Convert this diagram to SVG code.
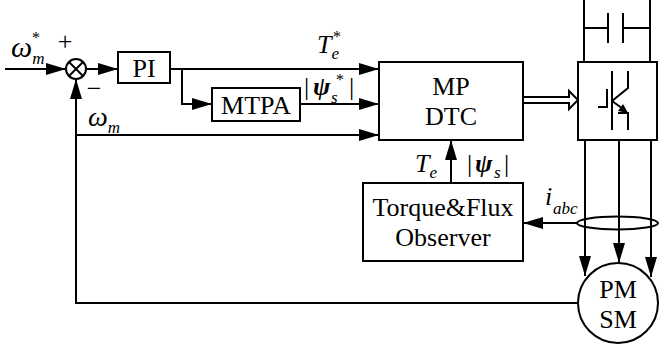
<svg xmlns="http://www.w3.org/2000/svg" width="660" height="350" viewBox="0 0 660 350">
<defs>
<marker id="ah" viewBox="0 0 20 12" refX="20" refY="6" markerWidth="20" markerHeight="12" markerUnits="userSpaceOnUse" orient="auto"><path d="M0,0 L20,6 L0,12 z" fill="#000"/></marker>
</defs>
<style>
.box{fill:#fff;stroke:#000;stroke-width:2}
.ln{fill:none;stroke:#000;stroke-width:2}
.ar{fill:none;stroke:#000;stroke-width:2;marker-end:url(#ah)}
.t{font-family:"Liberation Serif","Times New Roman",serif;font-size:26px;fill:#000}
.i{font-family:"Liberation Serif","Times New Roman",serif;font-style:italic;fill:#000}
.b{font-weight:bold}
.r{font-style:normal}
</style>
<rect width="660" height="350" fill="#fff"/>

<g id="connectors">
<line class="ar" x1="5" y1="69" x2="66" y2="69"/>
<line class="ar" x1="86" y1="69" x2="118" y2="69"/>
<line class="ar" x1="170" y1="69" x2="379" y2="69"/>
<polyline class="ar" points="182,69 182,104 212,104"/>
<line class="ar" x1="300" y1="104" x2="379" y2="104"/>
<polyline class="ar" points="578,303 76,303 76,79"/>
<line class="ar" x1="76" y1="135" x2="379" y2="135"/>
<line class="ar" x1="451" y1="183" x2="451" y2="140"/>
<line class="ar" x1="578" y1="223" x2="523" y2="223"/>
<path d="M523,97 H569 V91 L578,100 L569,109 V103 H523" fill="#fff" stroke="#000" stroke-width="2"/>
<line class="ar" x1="585" y1="140" x2="585" y2="276"/>
<line class="ar" x1="619" y1="140" x2="619" y2="263"/>
<line class="ar" x1="651" y1="140" x2="651" y2="277"/>
<line class="ln" x1="584" y1="0" x2="584" y2="62"/>
<line class="ln" x1="650" y1="0" x2="650" y2="62"/>
</g>

<g id="capacitor">
<line class="ln" x1="584" y1="28" x2="608" y2="28"/>
<line class="ln" x1="608" y1="13" x2="608" y2="43"/>
<line class="ln" x1="623" y1="13" x2="623" y2="43"/>
<line class="ln" x1="623" y1="28" x2="650" y2="28"/>
</g>

<g id="sum">
<circle cx="76" cy="69" r="10" fill="#fff" stroke="#000" stroke-width="2"/>
<line class="ln" x1="69" y1="62" x2="83" y2="76" stroke-width="1.6"/>
<line class="ln" x1="83" y1="62" x2="69" y2="76" stroke-width="1.6"/>
<text class="t" x="65" y="50" text-anchor="middle" font-size="22">+</text>
<text class="t" x="94" y="97" text-anchor="middle" font-size="20">−</text>
</g>

<g id="labels">
<text class="i" x="11" y="57" font-size="30">ω<tspan font-size="17" dy="7">m</tspan><tspan class="r" font-size="16" x="32" y="43">*</tspan></text>
<text class="i" x="88" y="126" font-size="28">ω<tspan font-size="17" dy="7">m</tspan></text>
<text class="i" x="317" y="53" font-size="26">T<tspan font-size="17" dy="6">e</tspan><tspan class="r" font-size="16" x="333" y="42">*</tspan></text>
<text class="t" x="304" y="95" font-size="28">|<tspan class="i b" font-size="26" x="313">ψ</tspan><tspan class="i" font-size="17" x="331" y="103">s</tspan><tspan font-size="16" x="336" y="85">*</tspan><tspan x="349" y="95">|</tspan></text>
<text class="i" x="415" y="172" font-size="26">T<tspan font-size="17" dy="6">e</tspan></text>
<text class="t" x="467" y="172" font-size="28">|<tspan class="i b" font-size="26" x="475">ψ</tspan><tspan class="i" font-size="17" x="494" y="178">s</tspan><tspan x="504" y="172">|</tspan></text>
<text class="i" x="545" y="205" font-size="26">i<tspan font-size="17" x="553" y="214">abc</tspan></text>
</g>

<g id="pi">
<rect class="box" x="118" y="52" width="52" height="31"/>
<text class="t" x="144" y="77" text-anchor="middle">PI</text>
</g>

<g id="mtpa">
<rect class="box" x="212" y="88" width="88" height="33"/>
<text class="t" x="256" y="114" text-anchor="middle">MTPA</text>
</g>

<g id="mpdtc">
<rect class="box" x="379" y="62" width="144" height="78"/>
<text class="t" x="451" y="95" text-anchor="middle">MP</text>
<text class="t" x="451" y="125" text-anchor="middle">DTC</text>
</g>

<g id="observer">
<rect class="box" x="363" y="183" width="160" height="78"/>
<text class="t" x="443" y="216" text-anchor="middle">Torque&amp;Flux</text>
<text class="t" x="443" y="246" text-anchor="middle">Observer</text>
</g>

<g id="inverter">
<rect class="box" x="578" y="62" width="79" height="78"/>
<line class="ln" x1="612" y1="71" x2="612" y2="130" stroke-width="2.5"/>
<polyline class="ln" points="598,107 607,107 607,89" stroke-width="2.5"/>
<polyline class="ln" points="612,101 628,88 628,71" stroke-width="2.5"/>
<polyline class="ln" points="612,101 626,111" stroke-width="2.5"/>
<path d="M628,113 L618,111 L623,104 z" fill="#000"/>
<polyline class="ln" points="618,113 628,113 628,130" stroke-width="2.5"/>
</g>

<g id="sensor">
<ellipse cx="617.5" cy="223" rx="40.5" ry="6.5" fill="none" stroke="#000" stroke-width="2"/>
</g>

<g id="pmsm">
<circle cx="618" cy="303" r="40" fill="#fff" stroke="#000" stroke-width="2"/>
<text class="t" x="618" y="298" text-anchor="middle">PM</text>
<text class="t" x="618" y="328" text-anchor="middle">SM</text>
</g>
</svg>
